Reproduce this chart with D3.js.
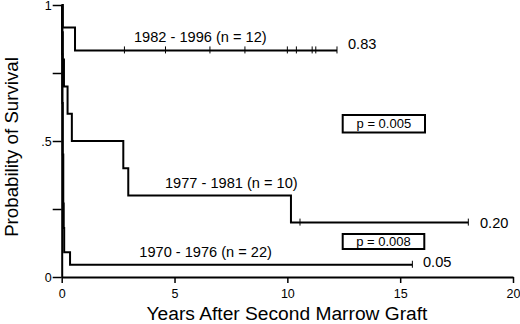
<!DOCTYPE html>
<html><head><meta charset="utf-8">
<script src="https://cdn.jsdelivr.net/npm/d3@7"></script>
<style>body{margin:0;background:#fff}svg{display:block}text{font-family:"Liberation Sans",Arial,sans-serif;fill:#000}</style>
</head><body>
<svg id="c" width="520" height="324"></svg>
<script>
// Data
const xTicks = [0, 5, 10, 15, 20];
const yTicks = [0, 0.25, 0.5, 0.75, 1];
const yTickLabels = ["0", "", ".5", "", "1"];

const t1982 = [0, 0.05, 0.59, 12.2];
const s1982 = [1, 0.917, 0.833, 0.833];
const c1982 = [2.78, 4.6, 6.57, 8.12, 10.0, 10.4, 11.1, 11.26, 12.2];

const t1977 = [0, 0.02, 0.05, 0.1, 0.26, 0.45, 2.73, 2.95, 10.16, 18.02];
const s1977 = [1, 0.9, 0.8, 0.7, 0.6, 0.5, 0.4, 0.3, 0.2, 0.2];
const c1977 = [10.56, 18.02];

const t1970 = [0, 0.02, 0.03, 0.05, 0.07, 0.09, 0.11, 0.37, 15.54];
const s1970 = [1, 0.82, 0.64, 0.45, 0.27, 0.18, 0.091, 0.045, 0.045];
const c1970 = [15.54];

const groupLabels = ["1982 - 1996 (n = 12)", "1977 - 1981 (n = 10)", "1970 - 1976 (n = 22)"];
const endLabels = ["0.83", "0.20", "0.05"];
const pLabels = ["p = 0.005", "p = 0.008"];

const svg = d3.select("#c");
const x = d3.scaleLinear().domain([0, 20]).range([61.7, 513]);
const y = d3.scaleLinear().domain([0, 1]).range([277, 5]);
const FF = '"Liberation Sans",Arial,sans-serif';

// axes
const xAxis = d3.axisBottom(x).tickValues(xTicks).tickSize(6).tickSizeOuter(0);
const gx = svg.append("g").attr("transform", `translate(0,${y(0)})`).call(xAxis);
gx.select(".domain").attr("stroke-width", 2).attr("stroke", "#000");
gx.selectAll(".tick line").attr("stroke-width", 1.5).attr("stroke", "#000");
gx.selectAll(".tick text").attr("font-size", 12.5).attr("dy", 0).attr("y", 21).style("font-family", FF);

const yAxis = d3.axisLeft(y).tickValues(yTicks).tickFormat((d, i) => yTickLabels[i]).tickSize(9).tickSizeOuter(0);
const gy = svg.append("g").attr("transform", `translate(${x(0)},0)`).call(yAxis);
gy.select(".domain").attr("stroke-width", 2).attr("stroke", "#000");
gy.selectAll(".tick line").attr("stroke-width", 1.5).attr("stroke", "#000");
gy.selectAll(".tick text").attr("font-size", 12.5).attr("x", -10).style("font-family", FF);

// curves
const line = d3.line().x(d => x(d[0])).y(d => y(d[1])).curve(d3.curveStepAfter);
const groups = [
  {t: t1982, s: s1982, c: c1982},
  {t: t1977, s: s1977, c: c1977},
  {t: t1970, s: s1970, c: c1970}
];
groups.forEach(g => {
  const pts = g.t.map((t, i) => [t, g.s[i]]);
  svg.append("path").attr("d", line(pts)).attr("fill", "none").attr("stroke", "#000").attr("stroke-width", 2);
  const last = g.s[g.s.length - 1];
  svg.selectAll(null).data(g.c).enter().append("line")
    .attr("x1", d => x(d)).attr("x2", d => x(d))
    .attr("y1", y(last) - 4).attr("y2", y(last) + 3)
    .attr("stroke", "#000").attr("stroke-width", 1);
});

// group labels
const gl = [[134, 41.7], [165, 188.3], [139.3, 256.7]];
groupLabels.forEach((t, i) => svg.append("text").attr("x", gl[i][0]).attr("y", gl[i][1]).attr("font-size", 14.6).text(t));
const el = [[348, 48.5], [480, 228], [423, 267]];
endLabels.forEach((t, i) => svg.append("text").attr("x", el[i][0]).attr("y", el[i][1]).attr("font-size", 14.6).text(t));

// p boxes
const pb = [[342.7, 115, 82.3, 17.5], [342.7, 234, 81.6, 15]];
pLabels.forEach((t, i) => {
  const b = pb[i];
  svg.append("rect").attr("x", b[0]).attr("y", b[1]).attr("width", b[2]).attr("height", b[3])
    .attr("fill", "#fff").attr("stroke", "#000").attr("stroke-width", 2);
  svg.append("text").attr("x", b[0] + b[2] / 2).attr("y", b[1] + b[3] / 2 + 4.5)
    .attr("text-anchor", "middle").attr("font-size", 13).text(t);
});

// axis titles
svg.append("text").attr("x", 287).attr("y", 320).attr("text-anchor", "middle").attr("font-size", 19.2)
  .text("Years After Second Marrow Graft");
svg.append("text").attr("transform", "translate(18,147) rotate(-90)").attr("text-anchor", "middle").attr("font-size", 18.7)
  .text("Probability of Survival");
</script>
</body></html>
